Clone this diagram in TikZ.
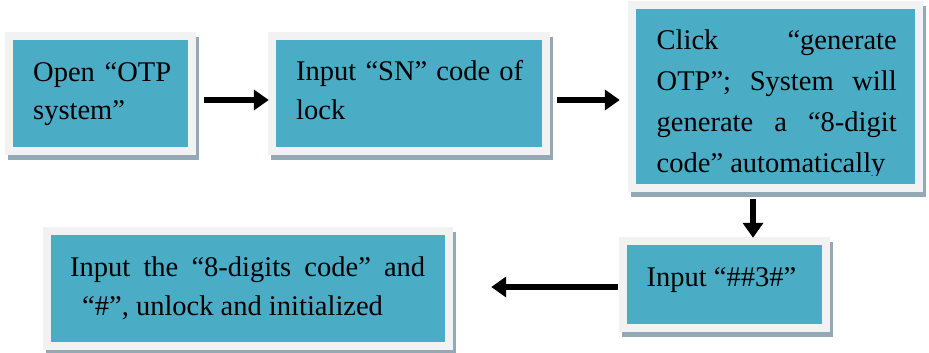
\documentclass[tikz,border=0pt]{standalone}
\usepackage{fontspec}
\setmainfont{Liberation Serif}
\usetikzlibrary{arrows.meta,backgrounds,calc}
\definecolor{boxblue}{HTML}{4BACC6}
\definecolor{framegray}{HTML}{F2F2F2}
\definecolor{shadowgray}{HTML}{93AAB6}
\newcommand\stepframe[1]{%
  \begin{scope}[on background layer]
    \fill[shadowgray] ([shift={(-5pt,3pt)}]#1.north west) rectangle ([shift={(10.5pt,-13pt)}]#1.south east);
    \fill[framegray] ([shift={(-7.5pt,7.5pt)}]#1.north west) rectangle ([shift={(7.5pt,-7.5pt)}]#1.south east);
  \end{scope}}
\begin{document}
\begin{tikzpicture}[x=1pt,y=1pt,
  stepbox/.style 2 args={fill=boxblue, draw=none, inner sep=0pt, minimum width=#1, minimum height=#2},
  txt/.style={anchor=base west, inner sep=0pt, font=\fontsize{28.5}{#1}\selectfont},
  arr/.style={-{Triangle[length=15pt,width=20pt]}, line width=5.5pt, black}
]
\useasboundingbox (0,0) rectangle (929,353);

% boxes
\node[stepbox={175pt}{107pt}] (b1) at (100.5,259.5) {};
\node[stepbox={266pt}{107pt}] (b2) at (409,259.5) {};
\node[stepbox={279pt}{175pt}] (b3) at (775.5,256.5) {};
\node[stepbox={195pt}{79pt}] (b4) at (724.5,68.5) {};
\node[stepbox={394pt}{107pt}] (b5) at (248,64.5) {};
\stepframe{b1}
\stepframe{b2}
\stepframe{b3}
\stepframe{b4}
\stepframe{b5}

% texts
\node[txt=38pt] (t1) at (33,271.3) {\vtop{\hbox{\makebox[138pt][s]{Open “OTP}}\hbox{system”}}};
\node[txt=39pt] (t2) at (296,272) {\vtop{\hbox{\makebox[227pt][s]{Input “SN” code of}}\hbox{lock}}};
\begin{scope}
  \clip ([yshift=9pt]b3.south west) rectangle (b3.north east);
  \node[txt=41pt] (t3) at (656.5,303) {\vtop{%
    \hbox{\makebox[240pt][s]{Click “generate}}%
    \hbox{\makebox[240pt][s]{OTP”; System will}}%
    \hbox{\makebox[240pt][s]{generate a “8-digit}}%
    \hbox{code” automatically}}};
\end{scope}
\node[txt=39pt] (t4) at (646.5,66) {Input “\#\#3\#”};
\node[txt=39pt] (t5) at (70,76) {\vtop{%
    \hbox{\makebox[355pt][s]{Input the “8-digits code” and}}%
    \hbox{\hspace{12pt}“\#”, unlock and initialized}}};

% connectors
\draw[arr] ([shift={(16pt,-6.5pt)}]b1.east) -- ([shift={(-7pt,-6.5pt)}]b2.west);
\draw[arr] ([shift={(15pt,-6.5pt)}]b2.east) -- ([shift={(-16pt,-3.5pt)}]b3.west);
\draw[arr] ([shift={(-22.5pt,-15pt)}]b3.south) -- ([shift={(28.5pt,7pt)}]b4.north);
\draw[arr] ([shift={(-9pt,-2.5pt)}]b4.west) -- ([shift={(46pt,1.5pt)}]b5.east);
\end{tikzpicture}
\end{document}
